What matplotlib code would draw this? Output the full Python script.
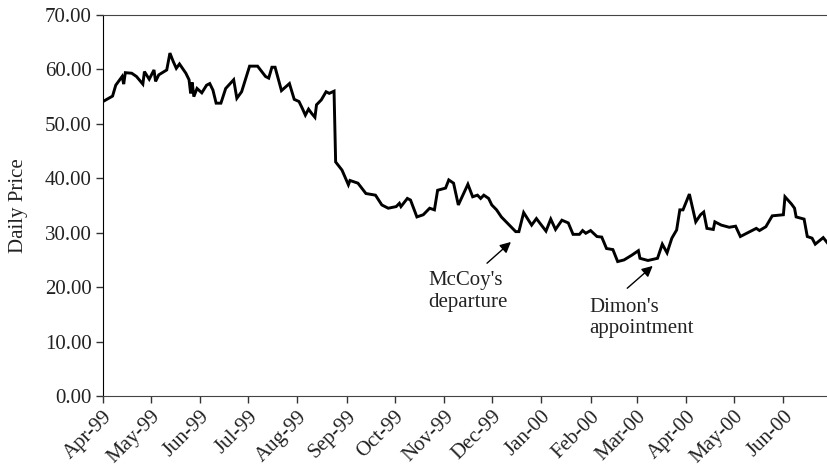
import matplotlib
matplotlib.use('Agg')
import matplotlib.pyplot as plt
import matplotlib.dates as mdates
import pandas as pd

plt.rcParams['font.family'] = ['Liberation Serif', 'DejaVu Serif']

# daily price
dates = [
    '1999-04-01', '1999-04-07', '1999-04-09', '1999-04-13', '1999-04-14', '1999-04-15',
    '1999-04-19', '1999-04-22', '1999-04-26', '1999-04-27', '1999-04-30', '1999-05-03',
    '1999-05-04', '1999-05-06', '1999-05-11', '1999-05-13', '1999-05-15', '1999-05-17',
    '1999-05-19', '1999-05-23', '1999-05-25', '1999-05-26', '1999-05-27', '1999-05-28',
    '1999-05-30', '1999-06-02', '1999-06-05', '1999-06-07', '1999-06-09', '1999-06-11',
    '1999-06-14', '1999-06-17', '1999-06-22', '1999-06-24', '1999-06-27', '1999-07-02',
    '1999-07-07', '1999-07-12', '1999-07-14', '1999-07-16', '1999-07-18', '1999-07-22',
    '1999-07-27', '1999-07-30', '1999-08-02', '1999-08-04', '1999-08-06', '1999-08-08',
    '1999-08-10', '1999-08-12', '1999-08-13', '1999-08-16', '1999-08-19', '1999-08-21',
    '1999-08-24', '1999-08-25', '1999-08-29', '1999-09-02', '1999-09-03', '1999-09-08',
    '1999-09-13', '1999-09-19', '1999-09-23', '1999-09-27', '1999-10-02', '1999-10-04',
    '1999-10-05', '1999-10-09', '1999-10-11', '1999-10-15', '1999-10-19', '1999-10-23',
    '1999-10-26', '1999-10-28', '1999-11-02', '1999-11-04', '1999-11-07', '1999-11-10',
    '1999-11-16', '1999-11-19', '1999-11-22', '1999-11-24', '1999-11-26', '1999-11-29',
    '1999-12-01', '1999-12-04', '1999-12-07', '1999-12-10', '1999-12-12', '1999-12-16',
    '1999-12-18', '1999-12-21', '1999-12-24', '1999-12-26', '1999-12-29', '2000-01-04',
    '2000-01-07', '2000-01-10', '2000-01-14', '2000-01-18', '2000-01-21',
    '2000-01-25', '2000-01-27', '2000-01-29', '2000-02-01', '2000-02-05', '2000-02-08',
    '2000-02-11', '2000-02-15', '2000-02-18', '2000-02-22', '2000-02-27', '2000-03-02',
    '2000-03-03', '2000-03-08', '2000-03-14', '2000-03-17', '2000-03-20', '2000-03-23',
    '2000-03-26', '2000-03-28', '2000-03-30', '2000-04-03', '2000-04-07', '2000-04-10',
    '2000-04-12', '2000-04-14', '2000-04-18', '2000-04-19', '2000-04-23', '2000-04-28',
    '2000-05-02', '2000-05-05', '2000-05-11', '2000-05-15', '2000-05-17', '2000-05-21',
    '2000-05-25', '2000-06-01', '2000-06-02', '2000-06-06', '2000-06-08', '2000-06-09',
    '2000-06-14', '2000-06-16', '2000-06-19', '2000-06-21', '2000-06-26', '2000-06-29',
]
prices = [
    54.1, 55.1, 57.1, 58.7, 57.3, 59.4,
    59.3, 58.7, 57.3, 59.6, 58.2, 59.9,
    57.8, 59.0, 59.9, 63.0, 61.5, 60.2,
    61.0, 59.3, 58.1, 55.6, 57.6, 55.0,
    56.5, 55.7, 57.1, 57.4, 56.2, 53.8,
    53.8, 56.5, 58.1, 54.7, 55.9, 60.6,
    60.6, 58.7, 58.4, 60.4, 60.4, 56.1,
    57.4, 54.5, 54.1, 52.9, 51.6, 52.7,
    51.9, 51.2, 53.5, 54.4, 55.9, 55.6,
    56.0, 43.0, 41.5, 38.8, 39.6, 39.1,
    37.2, 36.9, 35.1, 34.5, 34.8, 35.4,
    34.8, 36.3, 36.0, 32.9, 33.3, 34.5,
    34.2, 37.8, 38.2, 39.7, 39.1, 35.1,
    38.9, 36.6, 36.9, 36.3, 36.9, 36.3,
    35.1, 34.2, 32.9, 32.0, 31.4, 30.2,
    30.2, 33.7, 32.3, 31.4, 32.6, 30.3,
    32.5, 30.6, 32.3, 31.8, 29.7,
    29.7, 30.4, 29.9, 30.4, 29.3, 29.2,
    27.1, 26.9, 24.7, 25.0, 25.9, 26.7,
    25.3, 24.9, 25.3, 27.9, 26.3, 29.0,
    30.5, 34.2, 34.2, 37.1, 32.0, 33.3,
    33.8, 30.8, 30.6, 32.0, 31.4, 31.0,
    31.2, 29.3, 30.2, 30.8, 30.4, 31.1,
    33.1, 33.3, 36.6, 35.3, 34.5, 32.9,
    32.5, 29.3, 29.0, 27.9, 29.1, 28.0,
]
month_ticks = pd.date_range('1999-04-01', '2000-06-01', freq='MS')

# events marked on the chart
event_labels = ["McCoy's\ndeparture", "Dimon's\nappointment"]
arrow_heads = [('1999-12-13', 28.3), ('2000-03-11', 23.9)]
arrow_tails = [('1999-11-28', 24.4), ('2000-02-24', 19.8)]
label_pos = [('1999-10-22', 19.2), ('2000-01-31', 14.4)]

x = pd.to_datetime(dates)

fig = plt.figure(figsize=(8.28, 4.68), dpi=100)
ax = fig.add_axes([0.1244, 0.1538, 0.8756, 0.8142])
ax.plot(x, prices, color='black', linewidth=2.1, solid_joinstyle='miter')

ax.set_ylim(0, 70)
ax.set_yticks(range(0, 71, 10))
ax.set_yticklabels([f'{v:.2f}' for v in range(0, 71, 10)])
ax.set_xlim(x[0], x[-1])
ax.set_xticks(month_ticks)
ax.xaxis.set_major_formatter(mdates.DateFormatter('%b-%y'))
plt.setp(ax.get_xticklabels(), rotation=45, ha='right', rotation_mode='anchor')

ax.tick_params(axis='both', direction='out', length=5, width=1, labelsize=15,
               color='#333333', labelcolor='#222222', pad=3)
ax.set_ylabel('Daily Price', fontsize=15, color='#222222', labelpad=12)

ax.spines['right'].set_visible(False)
for s in ['top', 'bottom']:
    ax.spines[s].set_color('#444444')
ax.spines['left'].set_color('black')

for label, head, tail, pos in zip(event_labels, arrow_heads, arrow_tails, label_pos):
    ax.annotate('', xy=(pd.Timestamp(head[0]), head[1]),
                xytext=(pd.Timestamp(tail[0]), tail[1]),
                arrowprops=dict(arrowstyle='-|>', color='black', lw=1.0,
                                mutation_scale=16, shrinkA=0, shrinkB=0))
    ax.text(pd.Timestamp(pos[0]), pos[1], label, fontsize=15, color='#222222',
            ha='left', va='center', linespacing=1.15)

fig.savefig('out.png', dpi=100)
